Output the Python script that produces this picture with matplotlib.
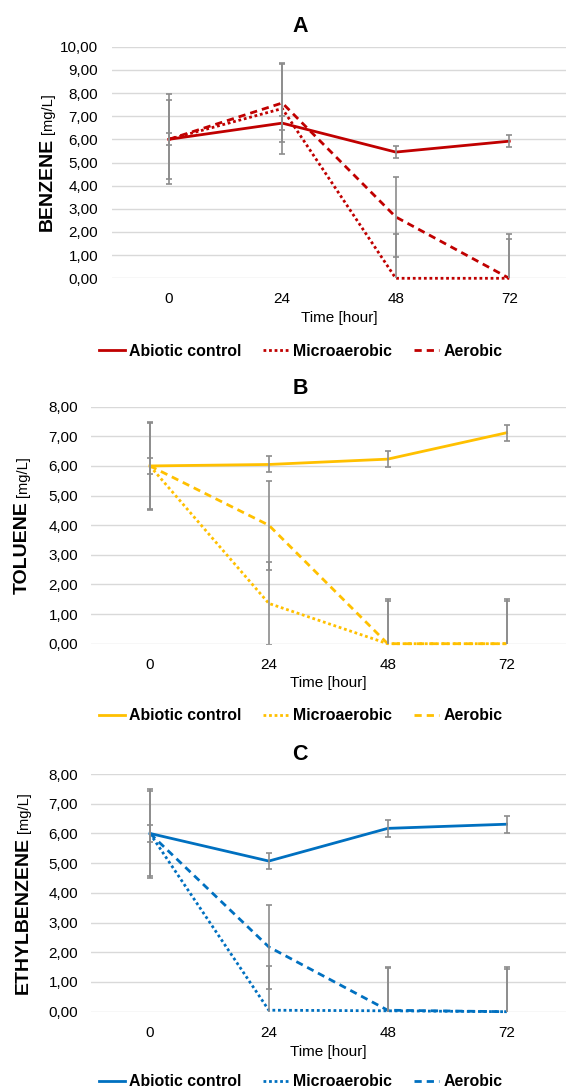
import numpy as np
import matplotlib
matplotlib.use("Agg")
import matplotlib.pyplot as plt
from matplotlib.ticker import FuncFormatter

plt.rcParams['font.family'] = ['Liberation Sans', 'DejaVu Sans']

W, H = 566, 1089

# categorie (tempo) e nomi delle serie
hours = ["0", "24", "48", "72"]
series_names = ["Abiotic control", "Microaerobic", "Aerobic"]

# A - benzene [mg/L]
benzene_abiotic = [6.00, 6.70, 5.45, 5.92]
benzene_abiotic_err = [0.26, 0.29, 0.26, 0.25]
benzene_micro = [6.00, 7.33, 0.00, 0.00]
benzene_micro_err = [1.70, 1.96, 1.91, 1.93]
benzene_aerobic = [6.00, 7.57, 2.65, 0.00]
benzene_aerobic_err = [1.94, 1.68, 1.73, 1.68]

# B - toluene [mg/L]
toluene_abiotic = [6.00, 6.05, 6.23, 7.12]
toluene_abiotic_err = [0.26, 0.27, 0.27, 0.27]
toluene_micro = [6.00, 1.36, 0.00, 0.00]
toluene_micro_err = [1.44, 1.41, 1.45, 1.45]
toluene_aerobic = [6.00, 4.00, 0.00, 0.00]
toluene_aerobic_err = [1.49, 1.50, 1.51, 1.50]

# C - etilbenzene [mg/L]
ethyl_abiotic = [6.00, 5.07, 6.17, 6.31]
ethyl_abiotic_err = [0.28, 0.28, 0.29, 0.28]
ethyl_micro = [6.00, 0.05, 0.03, 0.00]
ethyl_micro_err = [1.44, 1.49, 1.49, 1.50]
ethyl_aerobic = [6.00, 2.18, 0.05, 0.00]
ethyl_aerobic_err = [1.50, 1.41, 1.43, 1.45]

colori = {"A": "#C00000", "B": "#FFC000", "C": "#0070C0"}

# posizioni in pixel: left, right, top(10/8), bottom(0)
pannelli = [
    dict(lettera="A", nome="BENZENE", ymax=10, box=(112, 566, 46.7, 278.3),
         title_y=26, xlabel_y=318, legend_y=351, ylab_x=52, ypad=10,
         dati=[(benzene_abiotic, benzene_abiotic_err),
               (benzene_micro, benzene_micro_err),
               (benzene_aerobic, benzene_aerobic_err)]),
    dict(lettera="B", nome="TOLUENE", ymax=8, box=(90.5, 566, 406.7, 643.7),
         title_y=388, xlabel_y=683, legend_y=716, ylab_x=27, ypad=9,
         dati=[(toluene_abiotic, toluene_abiotic_err),
               (toluene_micro, toluene_micro_err),
               (toluene_aerobic, toluene_aerobic_err)]),
    dict(lettera="C", nome="ETHYLBENZENE", ymax=8, box=(90.5, 566, 774, 1011.7),
         title_y=754, xlabel_y=1052, legend_y=1082, ylab_x=28, ypad=9,
         dati=[(ethyl_abiotic, ethyl_abiotic_err),
               (ethyl_micro, ethyl_micro_err),
               (ethyl_aerobic, ethyl_aerobic_err)]),
]

stili = [dict(linestyle='-'),
         dict(linestyle=(0, (1, 1))),
         dict(linestyle=(0, (2.6, 1.8)))]

fig = plt.figure(figsize=(W / 100, H / 100), dpi=100)
x = np.arange(len(hours))
ylabels = []

for p in pannelli:
    l, r, t, b = p["box"]
    ax = fig.add_axes([l / W, 1 - b / H, (r - l) / W, (b - t) / H])
    col = colori[p["lettera"]]
    handles = []
    for (vals, err), st in zip(p["dati"], stili):
        ln, = ax.plot(x, vals, color=col, lw=2, clip_on=False, zorder=3, **st)
        handles.append(ln)
        ax.errorbar(x, vals, yerr=err, fmt='none', ecolor='#8C8C8C',
                    elinewidth=1.2, capsize=2, capthick=1.2, zorder=4)
    ax.set_xlim(-0.5, 3.5)
    ax.set_ylim(0, p["ymax"])
    ax.set_yticks(np.arange(0, p["ymax"] + 1, 1))
    ax.yaxis.set_major_formatter(FuncFormatter(lambda v, pos: f"{v:.2f}".replace(".", ",")))
    ax.set_xticks(x)
    ax.set_xticklabels(hours)
    ax.tick_params(length=0, labelsize=11, colors='black')
    ax.tick_params(axis='y', pad=p["ypad"])
    ax.tick_params(axis='x', pad=10)
    ax.grid(axis='y', color='#D9D9D9', lw=1)
    ax.set_axisbelow(True)
    for s in ax.spines.values():
        s.set_visible(False)

    fig.text(300 / W, 1 - p["title_y"] / H, p["lettera"], ha='center', va='center',
             fontsize=15.5, fontweight='bold')
    fig.text((l + r) / 2 / W, 1 - p["xlabel_y"] / H, "Time [hour]", ha='center',
             va='center', fontsize=11)
    fig.legend(handles, series_names, loc='center',
               bbox_to_anchor=(301 / W, 1 - p["legend_y"] / H), ncol=3, frameon=False,
               prop={'weight': 'bold', 'size': 11.4}, handlelength=1.6,
               handletextpad=0.3, columnspacing=1.35)

    t1 = fig.text(0, 0, p["nome"], rotation=90, rotation_mode='anchor', ha='left',
                  va='baseline', fontsize=14, fontweight='bold')
    t2 = fig.text(0, 0, "[mg/L]", rotation=90, rotation_mode='anchor', ha='left',
                  va='baseline', fontsize=10.5)
    ylabels.append((t1, t2, p["ylab_x"], (t + b) / 2))

# etichette asse y centrate sull'area del grafico
fig.canvas.draw()
rend = fig.canvas.get_renderer()
for t1, t2, xb, yc in ylabels:
    h1 = t1.get_window_extent(rend).height
    h2 = t2.get_window_extent(rend).height
    gap = 4
    y0 = (H - yc) - (h1 + gap + h2) / 2
    t1.set_position((xb / W, y0 / H))
    t2.set_position((xb / W, (y0 + h1 + gap) / H))

fig.savefig("out.png", dpi=100)
